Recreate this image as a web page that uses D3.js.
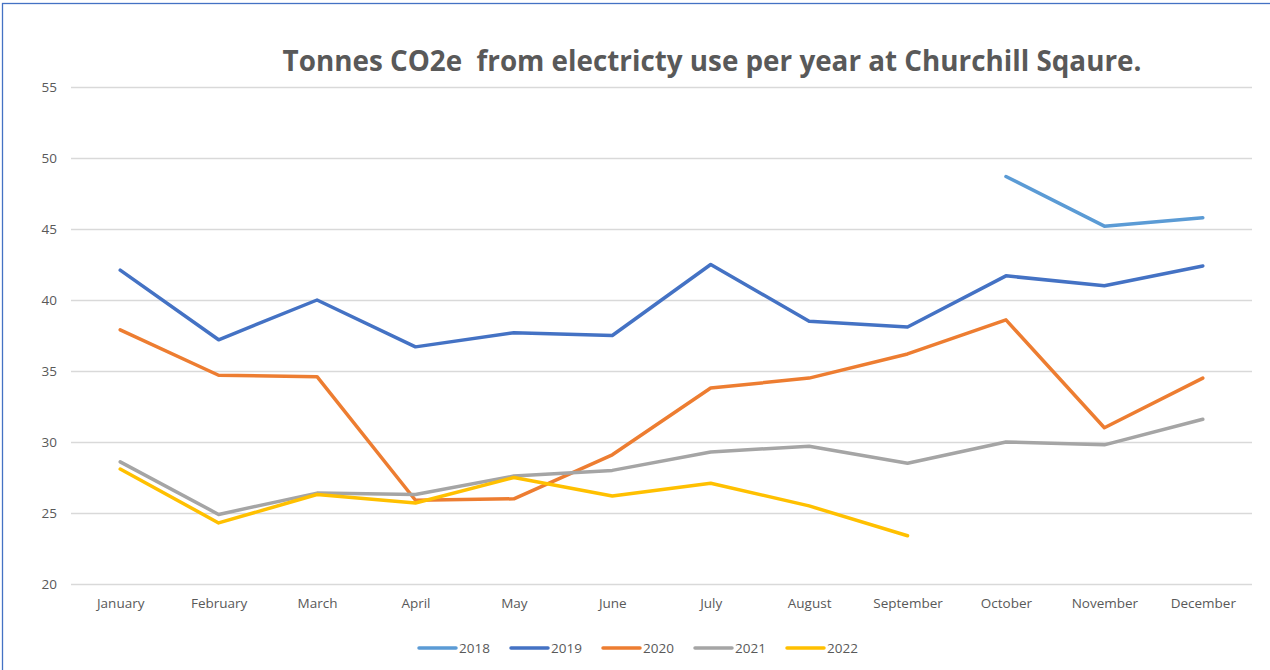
<!DOCTYPE html>
<html lang="en">
<head>
  <meta charset="UTF-8">
  <script src="https://d3js.org/d3.v7.min.js"></script>
  <title>Tonnes CO2e</title>
  <style>
    body { margin: 0; background: #fff; }
    text { font-family: "Open Sans", sans-serif; fill: #595959; }
  </style>
</head>
<body>
  <div id="chart"></div>
  <script>
    const months = ["January", "February", "March", "April", "May", "June",
      "July", "August", "September", "October", "November", "December"];
    const years = ["2018", "2019", "2020", "2021", "2022"];
    const yTicks = [20, 25, 30, 35, 40, 45, 50, 55];

    // null = no reading for that month
    const v2018 = [null, null, null, null, null, null, null, null, null, 48.7, 45.2, 45.8];
    const v2019 = [42.1, 37.2, 40.0, 36.7, 37.7, 37.5, 42.5, 38.5, 38.1, 41.7, 41.0, 42.4];
    const v2020 = [37.9, 34.7, 34.6, 25.9, 26.0, 29.1, 33.8, 34.5, 36.2, 38.6, 31.0, 34.5];
    const v2021 = [28.6, 24.9, 26.4, 26.3, 27.6, 28.0, 29.3, 29.7, 28.5, 30.0, 29.8, 31.6];
    const v2022 = [28.1, 24.3, 26.3, 25.7, 27.5, 26.2, 27.1, 25.5, 23.4, null, null, null];

    const colors = ["#5B9BD5", "#4472C4", "#ED7D31", "#A5A5A5", "#FFC000"];
    const series = [v2018, v2019, v2020, v2021, v2022].map((vals, i) => ({
      name: years[i], color: colors[i], values: vals
    }));

    const width = 1270;
    const height = 670;
    const plot = { left: 71, right: 1252, top: 87, bottom: 584 };

    const svg = d3.select("#chart")
      .append("svg")
      .attr("width", width)
      .attr("height", height);

    // chart border
    svg.append("rect")
      .attr("x", 2.5).attr("y", 3.5)
      .attr("width", width + 10).attr("height", height + 10)
      .attr("fill", "none")
      .attr("stroke", "#4472C4")
      .attr("stroke-width", 1.3);

    const x = d3.scalePoint()
      .domain(months)
      .range([plot.left, plot.right])
      .padding(0.5);

    const y = d3.scaleLinear()
      .domain([20, 55])
      .range([plot.bottom, plot.top]);

    // gridlines + y labels
    const yAxis = svg.append("g")
      .attr("transform", `translate(${plot.left},0)`)
      .call(d3.axisLeft(y).tickValues(yTicks).tickSize(-(plot.right - plot.left)).tickPadding(14));
    yAxis.select(".domain").remove();
    yAxis.selectAll("line").attr("stroke", "#D9D9D9").attr("stroke-width", 1.3);
    yAxis.selectAll("text").style("font-size", "13.5px").attr("fill", "#595959");

    const xAxis = svg.append("g")
      .attr("transform", `translate(0,${plot.bottom})`)
      .call(d3.axisBottom(x).tickSize(0).tickPadding(14));
    xAxis.select(".domain").remove();
    xAxis.selectAll("text").style("font-size", "13.5px").attr("fill", "#595959");

    const line = d3.line()
      .defined(d => d != null)
      .x((d, i) => x(months[i]))
      .y(d => y(d));

    svg.append("g")
      .selectAll("path")
      .data(series)
      .enter()
      .append("path")
      .attr("d", d => line(d.values))
      .attr("fill", "none")
      .attr("stroke", d => d.color)
      .attr("stroke-width", 3.5)
      .attr("stroke-linejoin", "round")
      .attr("stroke-linecap", "round");

    svg.append("text")
      .attr("x", 712)
      .attr("y", 71)
      .attr("text-anchor", "middle")
      .style("font-size", "27.8px")
      .style("font-weight", "bold")
      .style("white-space", "pre")
      .text("Tonnes CO2e  from electricty use per year at Churchill Sqaure.");

    // legend
    const legend = svg.append("g")
      .attr("transform", "translate(418,648)");
    const item = legend.selectAll("g")
      .data(series)
      .enter()
      .append("g")
      .attr("transform", (d, i) => `translate(${i * 92},0)`);
    item.append("line")
      .attr("x1", 1).attr("x2", 38)
      .attr("stroke", d => d.color)
      .attr("stroke-width", 3.5)
      .attr("stroke-linecap", "round");
    item.append("text")
      .attr("x", 41)
      .attr("y", 5)
      .style("font-size", "13.5px")
      .text(d => d.name);
  </script>
</body>
</html>
